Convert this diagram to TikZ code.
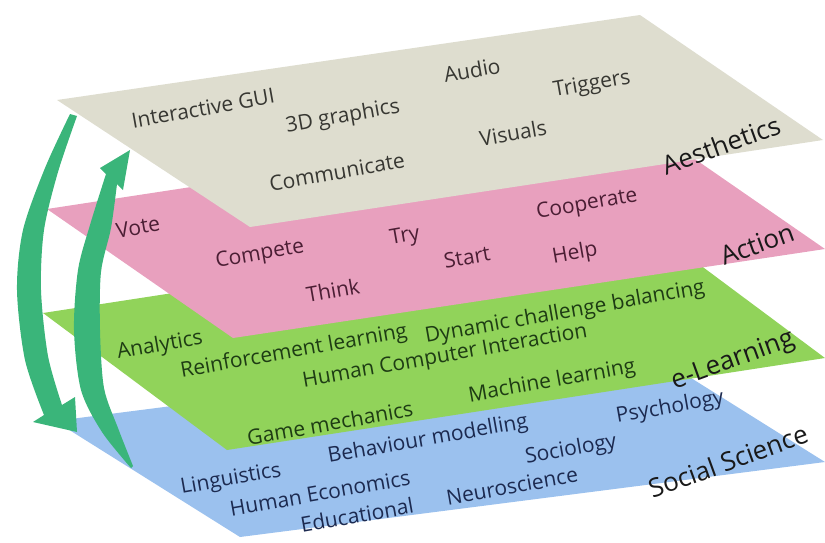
\documentclass[tikz,border=0pt]{standalone}
\usepackage{fontspec}
\setmainfont{Open Sans}
\definecolor{aesback}{RGB}{222,221,207}
\definecolor{actback}{RGB}{232,160,190}
\definecolor{lrnback}{RGB}{145,211,90}
\definecolor{socback}{RGB}{155,193,238}
\definecolor{aestext}{RGB}{55,55,50}
\definecolor{acttext}{RGB}{75,30,52}
\definecolor{lrntext}{RGB}{30,60,20}
\definecolor{soctext}{RGB}{28,42,80}
\definecolor{cyclegreen}{RGB}{58,181,122}

\begin{document}
\begin{tikzpicture}[x=0.5pt,y=-0.5pt,
  word/.style={font=\fontsize{10.5}{12}\selectfont, rotate=10, inner sep=0pt},
  layer/.style={font=\fontsize{13}{15}\selectfont, rotate=10, inner sep=0pt, text=black!90}]
 \useasboundingbox (0,0) rectangle (825,542);
 \clip (0,0) rectangle (825,542);
 % planes, bottom one first
 \fill[socback] (55,421) -- (640,346) -- (825,462) -- (240,537) -- cycle;
 \fill[lrnback] (43,313) -- (641,221) -- (825,358) -- (227,450) -- cycle;
 \fill[actback] (47,209) -- (637,119) -- (825,249) -- (233,338) -- cycle;
 \fill[aesback] (57,100) -- (640,15) -- (823,140) -- (250,227) -- cycle;

 \begin{scope}[every node/.style={word, text=aestext}]
   \node (gui) at (203,108) {Interactive GUI};
   \node (graphics) at (343,117) {3D graphics};
   \node (audio) at (472,70) {Audio};
   \node (triggers) at (592,85) {Triggers};
   \node (communicate) at (337,172) {Communicate};
   \node (visuals) at (513,133) {Visuals};
   \node (aesthetics) [layer] at (721,145) {Aesthetics};
 \end{scope}

 \begin{scope}[every node/.style={word, text=acttext}]
   \node (vote) at (138,227) {Vote};
   \node (compete) at (260,255) {Compete};
   \node (try) at (405,237) {Try};
   \node (start) at (467,257) {Start};
   \node (help) at (575,254) {Help};
   \node (cooperate) at (587,205) {Cooperate};
   \node (think) at (333,290) {Think};
   \node (action) [layer] at (757,244) {Action};
 \end{scope}

 \begin{scope}[every node/.style={word, text=lrntext}]
   \node (analytics) at (160,346) {Analytics};
   \node (reinforce) at (294,352) {Reinforcement learning};
   \node (dynamic) at (565,313) {Dynamic challenge balancing};
   \node (hci) at (445,357) {Human Computer Interaction};
   \node (game) at (330,423) {Game mechanics};
   \node (machine) at (552,382) {Machine learning};
   \node (elearning) [layer] at (733,361) {e-Learning};
 \end{scope}

 \begin{scope}[every node/.style={word, text=soctext}]
   \node (linguistics) at (231,480) {Linguistics};
   \node (economics) at (320,493) {Human Economics};
   \node (educational) at (357,515) {Educational};
   \node (behaviour) at (428,440) {Behaviour modelling};
   \node (neuro) at (512,486) {Neuroscience};
   \node (sociology) at (571,450) {Sociology};
   \node (psychology) at (670,408) {Psychology};
   \node (social) [layer] at (728,461) {Social Science};
 \end{scope}

 % the two curved arrows
 \fill[cyclegreen] plot[smooth] coordinates {(70,114) (45,168) (23,230) (17,290) (25,360) (44,415)}
   -- (33,422) -- (77,432) -- (75,397)
   -- plot[smooth] coordinates {(62,405) (48,356) (41,290) (44,230) (58,172) (77,116)} -- cycle;
 \fill[cyclegreen] plot[smooth] coordinates {(131,468) (102,432) (81,390) (74,330) (78,270) (90,225) (106,174)}
   -- (100,168) -- (130,150) -- (123,190)
   -- plot[smooth] coordinates {(117,184) (111,228) (101,272) (100,330) (104,388) (118,428) (133,466)} -- cycle;
\end{tikzpicture}
\end{document}
